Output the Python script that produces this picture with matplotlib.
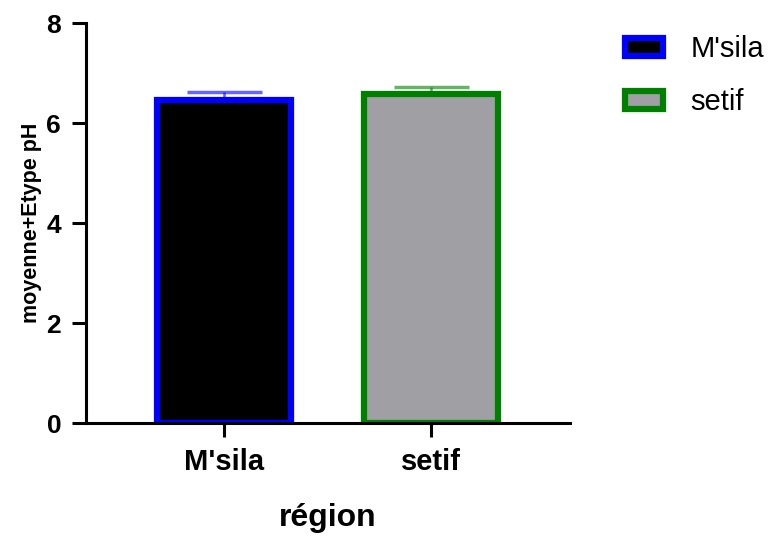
import matplotlib.pyplot as plt
import numpy as np

plt.rcParams['font.family'] = ['Liberation Sans', 'DejaVu Sans']

regions = ["M'sila", "setif"]
means = [6.47, 6.58]
errs = [0.16, 0.15]
faces = ["black", "#a09fa4"]
edges = ["#0000ff", "#008000"]

fig = plt.figure(figsize=(7.69, 5.37), dpi=100)
ax = fig.add_axes([0.112, 0.212, 0.629, 0.745])

x = np.arange(len(regions))
for i in range(len(regions)):
    ax.bar(x[i], means[i], width=0.65, color=faces[i], edgecolor=edges[i],
           linewidth=4.5, label=regions[i], zorder=2)
    ax.errorbar(x[i], means[i], yerr=[[0], [errs[i]]], fmt="none",
                ecolor=edges[i], alpha=0.6, elinewidth=1.8, capsize=27,
                capthick=2.5, zorder=1)

ax.set_xlim(-0.665, 1.67)
ax.set_ylim(0, 8)
ax.set_yticks([0, 2, 4, 6, 8])
ax.set_xticks(x)
ax.set_xticklabels(regions, fontsize=21, fontweight="bold")
ax.tick_params(axis="y", labelsize=19, width=2.2, length=10, pad=8)
ax.tick_params(axis="x", width=2.2, length=10, pad=8)
for lab in ax.get_yticklabels():
    lab.set_fontweight("bold")

for s in ["top", "right"]:
    ax.spines[s].set_visible(False)
for s in ["left", "bottom"]:
    ax.spines[s].set_linewidth(2.2)

ax.set_xlabel("région", fontsize=23, fontweight="bold", labelpad=19)
ax.set_ylabel("moyenne+Etype pH", fontsize=15.5, fontweight="bold", labelpad=3)

ax.legend(loc="upper left", bbox_to_anchor=(1.06, 1.035), frameon=False,
          fontsize=21, handlelength=1.3, handleheight=0.6,
          labelspacing=0.85, handletextpad=0.95)

fig.savefig("out.png", dpi=100)
